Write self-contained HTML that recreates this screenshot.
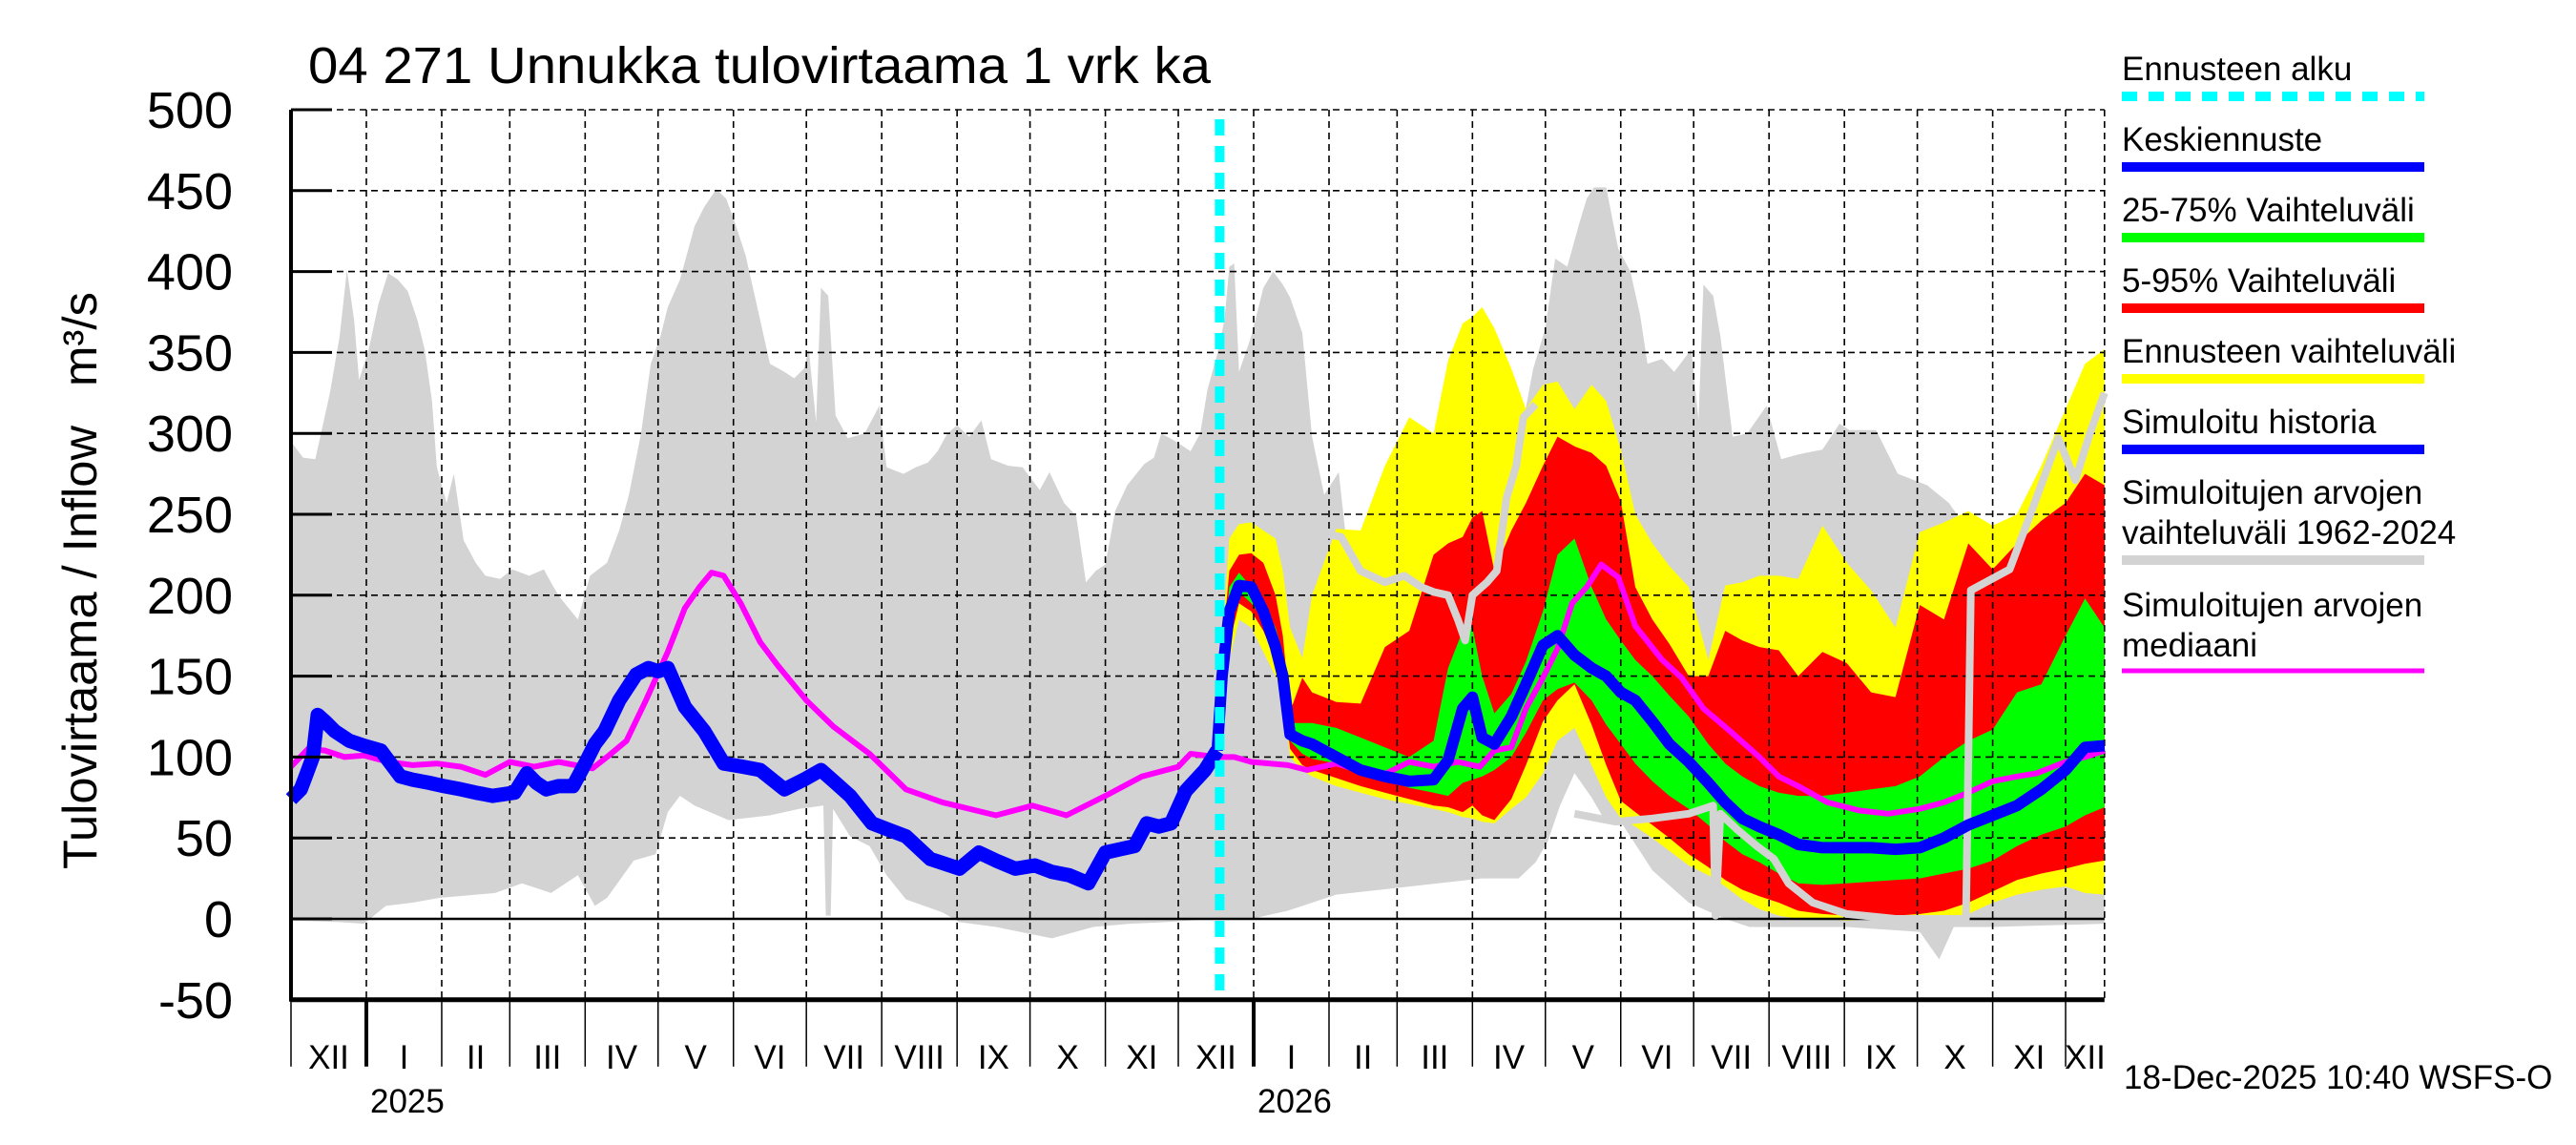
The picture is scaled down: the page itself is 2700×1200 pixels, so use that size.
<!DOCTYPE html>
<html><head><meta charset="utf-8"><style>
html,body{margin:0;padding:0;background:#fff;}
svg{display:block;font-family:"Liberation Sans",sans-serif;}
</style></head><body>
<svg id="chart" width="2700" height="1200" viewBox="0 0 2700 1200" xmlns="http://www.w3.org/2000/svg">
<rect x="0" y="0" width="2700" height="1200" fill="#fff"/>
<g id="bands"></g>
<g id="grid"></g>
<g id="lines"></g>
<g id="axes"></g>
<text x="323" y="87" font-size="54" textLength="946" lengthAdjust="spacingAndGlyphs">04 271 Unnukka tulovirtaama 1 vrk ka</text>
<text transform="translate(101,911) rotate(-90)" font-size="50" textLength="465" lengthAdjust="spacingAndGlyphs">Tulovirtaama / Inflow</text>
<text transform="translate(101,405) rotate(-90)" font-size="50" textLength="99" lengthAdjust="spacingAndGlyphs">m³/s</text>
<g id="legend" font-size="35">
<text x="2224" y="84">Ennusteen alku</text>
<line x1="2224" y1="101" x2="2541" y2="101" stroke="#00ffff" stroke-width="10" stroke-dasharray="16,12"/>
<text x="2224" y="158">Keskiennuste</text>
<line x1="2224" y1="175" x2="2541" y2="175" stroke="#0000ff" stroke-width="10"/>
<text x="2224" y="232">25-75% Vaihteluväli</text>
<line x1="2224" y1="249" x2="2541" y2="249" stroke="#00ff00" stroke-width="10"/>
<text x="2224" y="306">5-95% Vaihteluväli</text>
<line x1="2224" y1="323" x2="2541" y2="323" stroke="#ff0000" stroke-width="10"/>
<text x="2224" y="380">Ennusteen vaihteluväli</text>
<line x1="2224" y1="397" x2="2541" y2="397" stroke="#ffff00" stroke-width="10"/>
<text x="2224" y="454">Simuloitu historia</text>
<line x1="2224" y1="471" x2="2541" y2="471" stroke="#0000ff" stroke-width="10"/>
<text x="2224" y="528">Simuloitujen arvojen</text>
<text x="2224" y="570">vaihteluväli 1962-2024</text>
<line x1="2224" y1="587" x2="2541" y2="587" stroke="#d3d3d3" stroke-width="10"/>
<text x="2224" y="646">Simuloitujen arvojen</text>
<text x="2224" y="688">mediaani</text>
<line x1="2224" y1="703" x2="2541" y2="703" stroke="#ff00ff" stroke-width="5"/>
</g>
<text x="2226" y="1141" font-size="35">18-Dec-2025 10:40 WSFS-O</text>
</svg>
<script>
// ---- data (days since 1 Dec 2024, values m3/s) ----
const yTicks = [500,450,400,350,300,250,200,150,100,50,0,-50];
const monthLabels = ["XII","I","II","III","IV","V","VI","VII","VIII","IX","X","XI","XII","I","II","III","IV","V","VI","VII","VIII","IX","X","XI","XII"];
const monthLengths = [31,31,28,31,30,31,30,31,31,30,31,30,31,31,28,31,30,31,30,31,31,30,31,30,31];
const yearLabels = ["2025","2026"];
const yearStartMonth = [1,13];
const forecastStartDay = 382;

const gMaxDays = [0,5,10,16,20,23,26,28,32,36,40,44,48,52,55,58,60,64,67,71,76,80,86,91,98,104,108,111,118,123,130,135,139,144,148,152,155,160,166,170,175,179,182,187,193,197,203,207,211,213,216,218,221,224,229,236,242,245,252,257,262,266,270,274,279,284,288,295,301,308,312,318,323,327,331,335,339,344,351,355,358,364,370,374,377,381,384,386,388,390,395,400,404,408,411,416,420,425,431,434,440,450,460,470,480,490,500,507,511,516,520,525,530,533,536,541,546,551,555,558,564,569,576,579,581,585,588,593,599,607,613,620,630,637,641,652,661,673,682,690,700,710,720,730,738,746];
const gMax = [295,285,284,325,360,401,370,333,352,380,399,395,388,370,352,320,279,257,275,234,220,212,210,216,212,216,205,198,185,212,220,240,262,300,343,360,378,395,428,440,451,445,433,410,370,343,338,334,340,352,307,390,385,311,297,300,317,279,275,279,282,289,300,305,298,308,284,280,279,265,276,257,249,208,215,219,252,268,281,285,300,295,289,300,327,349,370,403,405,338,360,390,400,392,384,362,298,262,276,235,215,205,215,240,260,280,300,308,340,365,408,403,430,445,452,452,414,400,373,343,346,338,352,308,392,385,360,298,300,317,284,287,290,306,302,302,275,268,257,240,230,230,245,280,300,310];
const gMinDays = [0,20,30,39,50,61,84,95,107,118,125,130,141,150,155,160,166,180,197,209,219,220,222,223,230,238,245,253,268,275,290,313,330,345,360,380,395,410,430,460,490,505,512,517,522,528,535,540,547,560,575,590,600,640,670,678,684,700,746];
const gMin = [-1,-2,-3,8,10,13,16,22,16,27,8,13,36,40,66,76,70,61,64,68,70,2,2,68,51,45,27,12,4,-2,-5,-12,-5,-3,-2,0,0,5,15,20,25,25,35,48,70,90,75,62,60,30,10,0,-5,-5,-8,-25,-5,-5,-3];

const medDays = [0,7,14,22,30,40,50,60,70,80,90,100,110,124,130,138,146,155,162,168,173,178,185,193,200,212,223,238,253,268,290,305,319,335,350,365,370,381,388,395,410,418,430,448,460,470,480,489,495,502,508,515,521,527,533,539,546,553,564,572,581,592,604,612,620,632,645,657,670,680,690,700,710,718,730,738,746];
const medVals = [94,105,104,100,101,97,95,96,94,89,97,94,97,93,100,110,135,165,192,205,214,212,195,171,157,135,119,102,80,72,64,70,64,76,88,94,102,100,100,97,95,92,96,88,97,94,97,94,104,106,130,149,167,195,205,219,211,181,160,149,130,116,100,88,82,72,67,65,68,72,78,85,88,90,97,100,104];

const histDays = [0,4,6,9,11,14,18,24,30,37,41,45,50,57,63,70,76,83,92,97,101,105,110,116,121,125,129,135,142,147,151,155,162,170,178,186,193,203,211,218,224,230,239,246,253,263,275,283,290,298,306,313,320,328,335,341,347,352,357,362,368,376,381];
const histVals = [74,80,88,100,126,122,116,110,107,104,96,88,86,84,82,80,78,76,78,90,84,80,82,82,96,108,116,135,151,155,153,155,131,116,96,94,92,80,86,92,84,76,59,55,51,37,31,41,36,31,33,29,27,22,41,43,45,59,57,59,79,92,104];

const traceDays1 = [416,425,432,440,450,458,465,470,476,480,483,486,492,496,500,504,507,512];
const traceVals1 = [245,238,236,215,208,212,205,202,200,185,172,200,208,215,260,280,310,318];
const traceDays2 = [528,545,560,575,585,586,588,595,603,610,616,626,640,660,689,691,707,716,727,734,740,746];
const traceVals2 = [65,60,62,65,70,2,65,55,45,37,22,10,3,0,0,203,216,252,297,271,300,325];

const fDays = [381,383,386,390,395,400,405,408,411,416,420,430,440,450,460,470,476,482,486,490,495,502,508,515,521,528,535,541,547,553,560,567,575,583,590,597,604,612,620,630,640,650,660,670,680,690,700,710,720,730,738,746];
const fMean = [104,150,190,206,205,190,168,150,114,110,108,100,92,88,85,86,98,130,137,112,108,125,145,169,175,163,155,150,140,135,122,108,97,84,72,62,57,52,46,44,44,44,43,44,50,58,64,70,80,92,106,107];
const fGreenHi = [104,160,205,214,205,195,180,165,121,121,121,118,112,106,100,110,155,178,180,150,127,139,159,190,225,235,205,185,172,160,150,138,125,108,96,88,82,78,76,76,78,80,82,88,100,110,117,140,145,175,198,180];
const fGreenLo = [104,140,180,202,195,185,170,150,110,102,99,96,90,86,81,78,76,84,86,88,92,100,115,135,142,146,135,120,108,96,85,76,68,58,48,40,35,28,22,21,22,23,24,25,28,31,36,45,52,57,64,69];
const fRedHi = [104,165,215,225,226,220,200,175,128,149,140,134,133,168,178,225,232,236,248,252,215,240,257,280,298,292,288,280,258,205,185,170,150,150,178,172,168,166,150,165,158,140,137,194,185,232,216,232,246,257,275,268];
const fRedLo = [104,135,170,195,190,178,160,140,105,95,92,87,82,78,74,70,69,66,70,64,61,74,95,122,135,145,120,95,73,66,58,50,40,32,24,18,14,10,5,3,2,2,2,3,5,10,17,24,28,31,34,36];
const fYelHi = [104,170,235,244,245,240,235,215,180,161,200,241,240,280,310,300,345,368,372,378,365,340,315,330,332,315,330,320,290,250,232,218,205,160,206,208,212,212,210,243,220,203,180,239,245,252,243,250,280,315,343,352];
const fYelLo = [104,130,160,185,180,165,150,139,100,92,88,82,78,74,71,68,66,63,62,60,59,68,75,90,110,118,95,75,62,57,50,42,33,27,20,12,6,2,0,0,-1,0,0,0,0,3,10,15,18,20,16,15];

// ---- scales ----
const X0 = 305, PXD = 2.548, Y0 = 963, PXV = 1.696, TOTAL_DAYS = 746;
function xs(d){ return X0 + d*PXD; }
function ys(v){ return Y0 - v*PXV; }
const NS = "http://www.w3.org/2000/svg";
function mk(tag, attrs, parent){ const e=document.createElementNS(NS,tag); for(const k in attrs) e.setAttribute(k,attrs[k]); parent.appendChild(e); return e; }
function pts(days, vals){ return days.map((d,i)=>xs(d).toFixed(1)+","+ys(vals[i]).toFixed(1)).join(" "); }
function bandPts(dHi, hi, dLo, lo){
  const a = dHi.map((d,i)=>xs(d).toFixed(1)+","+ys(hi[i]).toFixed(1));
  const b = dLo.map((d,i)=>xs(d).toFixed(1)+","+ys(lo[i]).toFixed(1)).reverse();
  return a.concat(b).join(" ");
}

const bands = document.getElementById("bands");
const grid = document.getElementById("grid");
const lines = document.getElementById("lines");
const axes = document.getElementById("axes");

let el;
el = mk("polygon",{points:bandPts(gMaxDays,gMax,gMinDays,gMin),fill:"#d3d3d3"},bands);


el = mk("polygon",{points:bandPts(fDays,fYelHi,fDays,fYelLo),fill:"#ffff00"},bands);


el = mk("polygon",{points:bandPts(fDays,fRedHi,fDays,fRedLo),fill:"#ff0000"},bands);


el = mk("polygon",{points:bandPts(fDays,fGreenHi,fDays,fGreenLo),fill:"#00ff00"},bands);



const xEnd = xs(TOTAL_DAYS);
yTicks.forEach(v=>{
  if(v===-50) return;
  const g = mk("line",{x1:X0,y1:ys(v),x2:xEnd,y2:ys(v),stroke:"#000","stroke-width":v===0?2.5:1.6,"stroke-dasharray":v===0?"none":"7,5"},grid);
  
  
});
let cum = 0;
const boundaries = [];
monthLengths.forEach(len=>{ boundaries.push(cum); cum += len; });
boundaries.forEach((d,i)=>{
  if(i===0) return;
  if(d>TOTAL_DAYS) return;
  const g = mk("line",{x1:xs(d),y1:ys(500),x2:xs(d),y2:ys(-50),stroke:"#000","stroke-width":1.6,"stroke-dasharray":"7,5"},grid);
  
  
});
const gEnd = mk("line",{x1:xEnd,y1:ys(500),x2:xEnd,y2:ys(-50),stroke:"#000","stroke-width":1.6,"stroke-dasharray":"7,5"},grid);



el = mk("polyline",{points:pts(medDays,medVals),fill:"none",stroke:"#ff00ff","stroke-width":6,"stroke-linejoin":"round"},lines);


el = mk("polyline",{points:pts(traceDays1,traceVals1),fill:"none",stroke:"#d3d3d3","stroke-width":8,"stroke-linejoin":"round"},lines);


el = mk("polyline",{points:pts(traceDays2,traceVals2),fill:"none",stroke:"#d3d3d3","stroke-width":8,"stroke-linejoin":"round"},lines);


el = mk("polyline",{points:pts(histDays,histVals),fill:"none",stroke:"#0000ff","stroke-width":15,"stroke-linejoin":"round"},lines);


el = mk("polyline",{points:pts(fDays,fMean),fill:"none",stroke:"#0000ff","stroke-width":12,"stroke-linejoin":"round"},lines);


el = mk("line",{x1:xs(forecastStartDay),y1:ys(500)+10,x2:xs(forecastStartDay),y2:ys(-50),stroke:"#00ffff","stroke-width":10,"stroke-dasharray":"17,11"},lines);



el = mk("line",{x1:X0,y1:ys(500),x2:X0,y2:ys(-50)+2,stroke:"#000","stroke-width":4},axes);


el = mk("line",{x1:X0,y1:ys(-50),x2:xEnd,y2:ys(-50),stroke:"#000","stroke-width":5},axes);


yTicks.forEach(v=>{
  const t = mk("line",{x1:X0,y1:ys(v),x2:348,y2:ys(v),stroke:"#000","stroke-width":3},axes);
  
  
  const lb = mk("text",{x:244,y:ys(v)+19,"font-size":54,"text-anchor":"end"},axes);
  lb.textContent = String(v);
  
  
});
const axY = ys(-50);
boundaries.forEach((d,i)=>{
  if(d>TOTAL_DAYS) return;
  const isYear = yearStartMonth.indexOf(i)>=0;
  const t = mk("line",{x1:xs(d),y1:axY,x2:xs(d),y2:axY+70,stroke:"#000","stroke-width":isYear?4:1.5},axes);
  
  
  const end = Math.min(d+monthLengths[i], TOTAL_DAYS);
  const lb = mk("text",{x:(xs(d)+xs(end))/2,y:axY+72,"font-size":35,"text-anchor":"middle"},axes);
  lb.textContent = monthLabels[i];
  
  
});
yearLabels.forEach((yl,i)=>{
  const d = boundaries[yearStartMonth[i]];
  const lb = mk("text",{x:xs(d)+4,y:axY+118,"font-size":35},axes);
  lb.textContent = yl;
  
  
});
</script>
</body></html>
